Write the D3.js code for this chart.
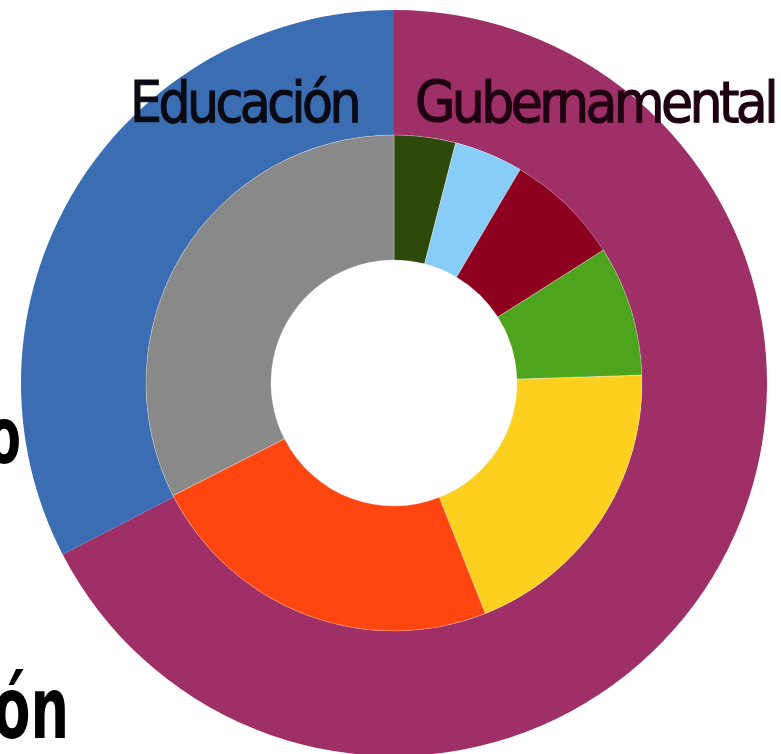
<!DOCTYPE html>
<html>
<head>
<meta charset="utf-8">
<script src="https://cdn.jsdelivr.net/npm/d3@7"></script>
<style>
  html, body { margin: 0; padding: 0; background: #ffffff; overflow: hidden; }
  svg { display: block; }
</style>
</head>
<body>
<svg id="chart" width="781" height="754"></svg>
<script>
// ---- data ----
const outerCategories = ["Gubernamental", "Educación"];
const outerValues = [67.4, 32.6];
const outerColors = ["#9f2f67", "#3b6db3"];

const innerCategories = ["A", "B", "C", "D", "E", "F", "G"];
const innerValues = [4, 4.5, 7.5, 8.5, 19.5, 23.5, 32.5];
const innerColors = ["#2e4a0a", "#87cdf8", "#8e0020", "#4fa41e", "#fdd020", "#ff4510", "#898989"];

const outerLabels = ["Gubernamental", "Educación"];
const sideLabels = ["o", "ón"];

// ---- drawing ----
const svg = d3.select("#chart");
const cx = 394, cy = 383;
const rOuter = 373, rMid = 248, rInner = 123;

const g = svg.append("g").attr("transform", `translate(${cx},${cy})`);

const pie = d3.pie().sort(null).value(d => d.value);

const outerData = pie(outerCategories.map((c, i) => ({ name: c, value: outerValues[i], color: outerColors[i] })));
const innerData = pie(innerCategories.map((c, i) => ({ name: c, value: innerValues[i], color: innerColors[i] })));

const arcOuter = d3.arc().innerRadius(rMid).outerRadius(rOuter);
const arcInner = d3.arc().innerRadius(rInner).outerRadius(rMid);

g.selectAll("path.outer")
  .data(outerData)
  .join("path")
  .attr("class", "outer")
  .attr("d", arcOuter)
  .attr("fill", d => d.data.color);

g.selectAll("path.inner")
  .data(innerData)
  .join("path")
  .attr("class", "inner")
  .attr("d", arcInner)
  .attr("fill", d => d.data.color)
  .attr("stroke", "#ffffff")
  .attr("stroke-opacity", 0.35)
  .attr("stroke-width", 0.8);

// outer ring labels (compressed sans)
const labelSpec = [
  { text: outerLabels[1], x: 130, w: 228, color: "#0a0a14" },
  { text: outerLabels[0], x: 415, w: 360, color: "#1e0010" }
];
svg.selectAll("text.ring")
  .data(labelSpec)
  .join("text")
  .attr("class", "ring")
  .attr("x", d => d.x)
  .attr("y", 122)
  .attr("textLength", d => d.w)
  .attr("lengthAdjust", "spacingAndGlyphs")
  .attr("font-family", "DejaVu Sans, Verdana, sans-serif")
  .attr("font-size", 57)
  .attr("letter-spacing", -4)
  .attr("fill", d => d.color)
  .attr("stroke", d => d.color)
  .attr("stroke-width", 1.2)
  .text(d => d.text);

// large bold cut-off labels on the left
const sideSpec = [
  { text: sideLabels[0], x: 21, y: 463, size: 78 },
  { text: sideLabels[1], x: 69, y: 738, size: 86 }
];
svg.selectAll("text.side")
  .data(sideSpec)
  .join("text")
  .attr("class", "side")
  .attr("transform", d => `translate(${d.x},${d.y}) scale(0.63,1)`)
  .attr("text-anchor", "end")
  .attr("font-family", "DejaVu Sans, sans-serif")
  .attr("font-weight", "bold")
  .attr("font-size", d => d.size)
  .attr("fill", "#000000")
  .text(d => d.text);
</script>
</body>
</html>
